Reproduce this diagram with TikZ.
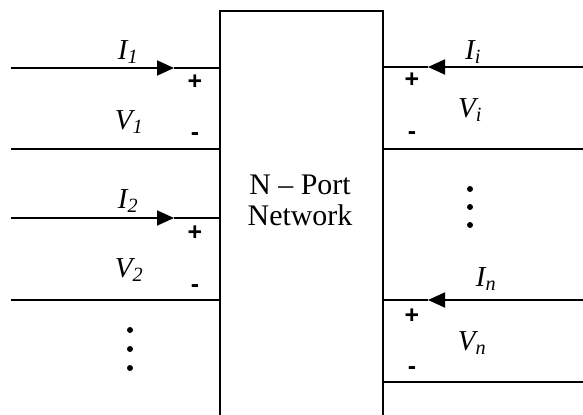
\documentclass[tikz,border=0pt]{standalone}
\usepackage{fontspec}
\setmainfont{Liberation Serif}
\newfontfamily\signfont{Liberation Sans}
\usetikzlibrary{arrows.meta}
\begin{document}
\begin{tikzpicture}[x=1bp,y=-1bp,
  wire/.style={line width=1.8bp},
  arr/.style={line width=1.8bp,-{Triangle[length=17bp,width=15bp]}},
  lab/.style={font=\fontsize{29}{32}\selectfont\itshape,inner sep=0pt},
  sgn/.style={font=\signfont\bfseries\fontsize{25}{26}\selectfont,inner sep=0pt},
  dot/.style={circle,fill=black,inner sep=0pt,minimum size=6bp},
  netbox/.style={draw,line width=1.8bp,minimum width=163bp,minimum height=420bp,anchor=north west,inner sep=0pt}]
\useasboundingbox (0,0) rectangle (583,414);
\fill[white] (0,0) rectangle (583,414);
\node[netbox] (box) at (219,10) {};
\node[font=\fontsize{30}{31}\selectfont,align=center] (txt) at (300,200) {N -- Port\\Network};
% left ports
\coordinate (la1) at (11,68);  \coordinate (lt1) at (174,68);  \coordinate (lb1) at (219,68);
\coordinate (lc1) at (11,149); \coordinate (ld1) at (219,149);
\coordinate (la2) at (11,218); \coordinate (lt2) at (174,218); \coordinate (lb2) at (219,218);
\coordinate (lc2) at (11,300); \coordinate (ld2) at (219,300);
\draw[arr] (la1) -- (lt1); \draw[wire] (lt1) -- (lb1);
\draw[wire] (lc1) -- (ld1);
\draw[arr] (la2) -- (lt2); \draw[wire] (lt2) -- (lb2);
\draw[wire] (lc2) -- (ld2);
\node[lab] (I1) at (128,52) {I\textsubscript{1}};
\node[lab] (V1) at (129,122) {V\textsubscript{1}};
\node[sgn] (p1) at (195,82) {+};
\node[sgn] (m1) at (195,137) {-};
\node[lab] (I2) at (128,201) {I\textsubscript{2}};
\node[lab] (V2) at (129,270) {V\textsubscript{2}};
\node[sgn] (p2) at (195,233) {+};
\node[sgn] (m2) at (195,289) {-};
\node[dot] (ld1d) at (130,330) {};
\node[dot] (ld2d) at (130,349) {};
\node[dot] (ld3d) at (130,368) {};
% right ports
\coordinate (ra1) at (583,67);  \coordinate (rt1) at (428,67);  \coordinate (rb1) at (382,67);
\coordinate (rc1) at (583,149); \coordinate (rd1) at (382,149);
\coordinate (ra2) at (583,300); \coordinate (rt2) at (428,300); \coordinate (rb2) at (382,300);
\coordinate (rc2) at (583,382); \coordinate (rd2) at (382,382);
\draw[arr] (ra1) -- (rt1); \draw[wire] (rt1) -- (rb1);
\draw[wire] (rc1) -- (rd1);
\draw[arr] (ra2) -- (rt2); \draw[wire] (rt2) -- (rb2);
\draw[wire] (rc2) -- (rd2);
\node[lab] (Ii) at (473,52) {I\textsubscript{i}};
\node[lab] (Vi) at (470,110) {V\textsubscript{i}};
\node[sgn] (pi) at (412,80) {+};
\node[sgn] (mi) at (412,136) {-};
\node[lab] (In) at (486,279) {I\textsubscript{n}};
\node[lab] (Vn) at (472,343) {V\textsubscript{n}};
\node[sgn] (pn) at (412,316) {+};
\node[sgn] (mn) at (412,371) {-};
\node[dot] (rd1d) at (470,189) {};
\node[dot] (rd2d) at (470,207) {};
\node[dot] (rd3d) at (470,225) {};
\end{tikzpicture}
\end{document}
